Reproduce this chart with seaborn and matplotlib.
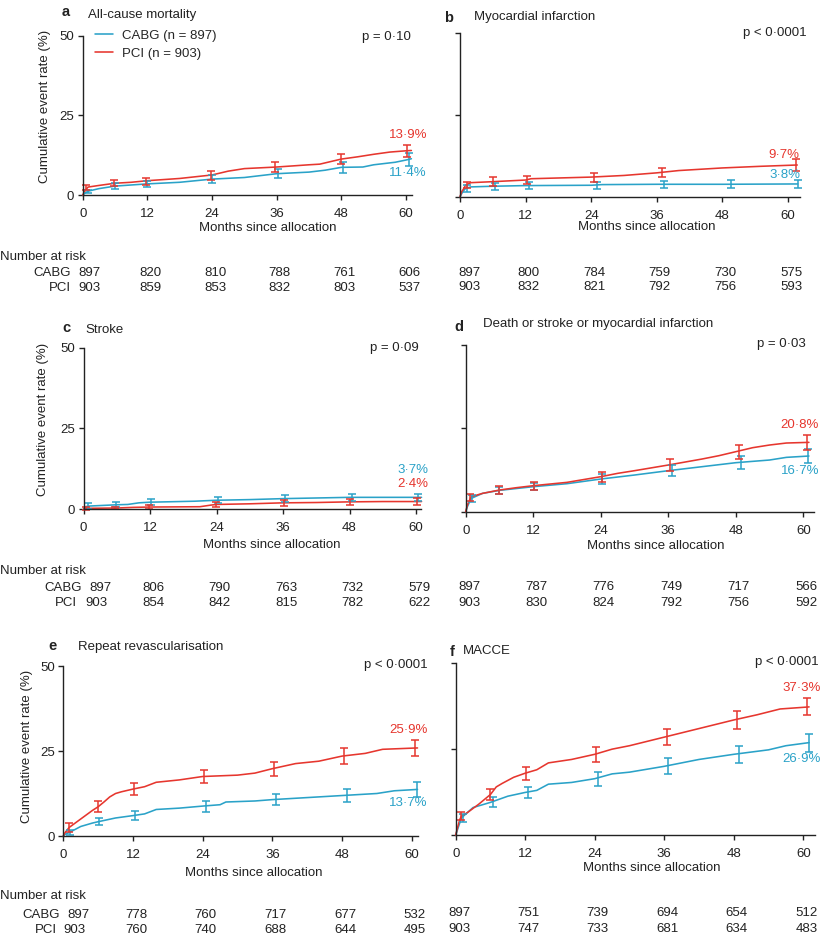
import matplotlib
matplotlib.use("Agg")
import matplotlib.pyplot as plt
import seaborn as sns

sns.set_style("ticks")
plt.rcParams["font.family"] = ["Liberation Sans", "DejaVu Sans"]

RED = "#e6362e"
BLUE = "#2aa2c8"
INK = "#222222"
FS = 9.5

# ---------------- data ----------------
risk_months = [0, 12, 24, 36, 48, 60]

# a  All-cause mortality
a_cabg_t = [0, 0.5, 1, 3, 6, 12, 18, 24, 30, 36, 42, 45, 48, 52, 54, 58, 60, 61]
a_cabg_v = [0, 0.7, 1.2, 2.0, 2.8, 3.5, 4.0, 5.0, 5.5, 6.7, 7.2, 7.8, 8.7, 8.8, 9.5, 10.3, 11.0, 11.4]
a_pci_t = [0, 0.5, 1, 3, 6, 9, 12, 18, 24, 27, 30, 36, 42, 44, 48, 51, 54, 57, 60, 61]
a_pci_v = [0, 1.5, 2.5, 3.0, 3.7, 4.0, 4.5, 5.2, 6.3, 7.5, 8.3, 8.8, 9.5, 9.7, 11.3, 12.0, 12.8, 13.5, 13.9, 14.0]
a_cabg_bar_t = [0.9, 6.0, 11.9, 24.0, 36.2, 48.4, 60.5]
a_cabg_bar_v = [1.1, 2.8, 3.5, 5.0, 6.8, 8.7, 11.2]
a_cabg_bar_e = [0.6, 0.9, 1.0, 1.2, 1.4, 1.7, 2.0]
a_pci_bar_t = [0.7, 5.9, 11.8, 23.8, 35.7, 47.9, 60.1]
a_pci_bar_v = [2.4, 3.7, 4.4, 6.2, 8.8, 11.3, 13.9]
a_pci_bar_e = [0.8, 1.0, 1.1, 1.4, 1.6, 1.7, 1.9]
a_risk_cabg = [897, 820, 810, 788, 761, 606]
a_risk_pci = [903, 859, 853, 832, 803, 537]

# b  Myocardial infarction
b_cabg_t = [0, 0.5, 1, 2, 6, 12, 24, 26, 36, 48, 61.8]
b_cabg_v = [0, 1.5, 2.5, 3.0, 3.2, 3.4, 3.5, 3.7, 3.8, 3.8, 3.9]
b_pci_t = [0, 0.3, 0.7, 1, 2, 6, 12, 13, 24, 30, 36, 40, 48, 55, 61.7]
b_pci_v = [0, 1.5, 2.5, 3.5, 4.3, 4.6, 5.1, 5.5, 6.0, 6.5, 7.3, 8.0, 8.8, 9.3, 9.7]
b_cabg_bar_t = [1.2, 6.4, 12.7, 25.1, 37.4, 49.6, 61.8]
b_cabg_bar_v = [2.5, 3.2, 3.4, 3.5, 3.8, 3.8, 3.9]
b_cabg_bar_e = [1.2, 1.1, 1.0, 1.1, 1.1, 1.2, 1.3]
b_pci_bar_t = [1.2, 6.1, 12.2, 24.6, 36.9, 61.4]
b_pci_bar_v = [3.6, 4.6, 5.1, 6.0, 7.4, 9.7]
b_pci_bar_e = [0.9, 1.3, 1.3, 1.4, 1.5, 1.7]
b_risk_cabg = [897, 800, 784, 759, 730, 575]
b_risk_pci = [903, 832, 821, 792, 756, 593]

# c  Stroke
c_cabg_t = [0, 0.3, 1, 6, 8, 10, 12, 20, 24, 30, 36, 42, 48, 61]
c_cabg_v = [0, 0.8, 1.0, 1.4, 1.5, 2.0, 2.2, 2.5, 2.8, 3.0, 3.3, 3.5, 3.7, 3.7]
c_pci_t = [0, 0.5, 6, 9, 12, 21, 23, 24, 30, 36, 42, 48, 54, 61]
c_pci_v = [0, 0.3, 0.4, 0.6, 0.7, 0.8, 1.3, 1.5, 1.7, 2.0, 2.1, 2.3, 2.4, 2.4]
c_cabg_bar_t = [0.9, 5.9, 12.2, 24.2, 36.3, 48.5, 60.3]
c_cabg_bar_v = [1.0, 1.4, 2.2, 2.8, 3.3, 3.7, 3.7]
c_cabg_bar_e = [0.8, 0.8, 0.9, 1.0, 1.1, 1.1, 1.1]
c_pci_bar_t = [0.5, 5.7, 11.9, 23.9, 36.1, 48.1, 60.1]
c_pci_bar_v = [0.3, 0.4, 0.7, 1.5, 2.0, 2.3, 2.4]
c_pci_bar_e = [0.4, 0.4, 0.6, 0.9, 1.0, 1.0, 1.0]
c_risk_cabg = [897, 806, 790, 763, 732, 579]
c_risk_pci = [903, 854, 842, 815, 782, 622]

# d  Death or stroke or myocardial infarction
d_cabg_t = [0, 0.3, 0.7, 1, 3, 6, 12, 18, 24, 30, 36, 42, 48, 54, 57, 61]
d_cabg_v = [0, 1.5, 3.0, 4.0, 5.5, 6.4, 7.5, 8.4, 9.8, 11.0, 12.3, 13.5, 14.7, 15.5, 16.3, 16.7]
d_pci_t = [0, 0.3, 0.7, 1, 2, 3, 6, 9, 12, 18, 24, 27, 30, 36, 42, 45, 48, 51, 54, 57, 61]
d_pci_v = [0, 2.0, 3.5, 4.5, 5.0, 5.5, 6.5, 7.2, 7.8, 8.8, 10.5, 11.5, 12.3, 14.0, 15.8, 16.8, 18.0, 19.2, 20.0, 20.6, 20.8]
d_cabg_bar_t = [1.2, 6.0, 12.2, 24.3, 36.6, 48.9, 60.9]
d_cabg_bar_v = [4.0, 6.4, 7.5, 9.8, 12.3, 14.7, 16.7]
d_cabg_bar_e = [1.0, 1.0, 1.1, 1.4, 1.6, 1.9, 2.1]
d_pci_bar_t = [0.8, 6.0, 12.2, 24.2, 36.3, 48.6, 60.6]
d_pci_bar_v = [4.3, 6.5, 7.8, 10.5, 14.0, 18.0, 20.8]
d_pci_bar_e = [1.0, 1.1, 1.2, 1.5, 1.8, 2.1, 2.3]
d_risk_cabg = [897, 787, 776, 749, 717, 566]
d_risk_pci = [903, 830, 824, 792, 756, 592]

# e  Repeat revascularisation
e_cabg_t = [0, 0.3, 1, 3, 5, 6, 9, 12, 14, 16, 20, 24, 27, 28, 33, 36, 42, 48, 54, 57, 61]
e_cabg_v = [0, 0.5, 1.0, 2.8, 3.8, 4.2, 5.3, 6.0, 6.5, 7.8, 8.2, 8.8, 9.2, 10.0, 10.3, 10.7, 11.3, 11.9, 12.5, 13.3, 13.7]
e_pci_t = [0, 0.3, 1, 3, 5, 6, 7, 8, 9, 10, 12, 14, 16, 20, 24, 30, 33, 36, 40, 44, 48, 52, 55, 61]
e_pci_v = [0, 1.0, 2.5, 5.0, 7.5, 8.6, 10.0, 11.5, 12.5, 13.0, 13.8, 14.5, 15.8, 16.5, 17.5, 17.9, 18.5, 19.8, 21.3, 22.0, 23.5, 24.3, 25.5, 25.9]
e_cabg_bar_t = [1.1, 6.2, 12.4, 24.5, 36.6, 48.9, 60.9]
e_cabg_bar_v = [1.0, 4.2, 6.0, 8.8, 10.7, 11.9, 13.7]
e_cabg_bar_e = [0.7, 1.1, 1.3, 1.6, 1.7, 1.9, 2.1]
e_pci_bar_t = [1.0, 5.9, 12.1, 24.3, 36.3, 48.4, 60.5]
e_pci_bar_v = [2.5, 8.6, 13.8, 17.5, 19.8, 23.5, 25.9]
e_pci_bar_e = [1.2, 1.6, 1.8, 2.0, 2.1, 2.3, 2.4]
e_risk_cabg = [897, 778, 760, 717, 677, 532]
e_risk_pci = [903, 760, 740, 688, 644, 495]

# f  MACCE
f_cabg_t = [0, 0.3, 0.7, 1, 3, 6, 9, 12, 14, 16, 20, 24, 27, 30, 36, 42, 48, 54, 57, 61]
f_cabg_v = [0, 1.5, 3.5, 5.0, 8.0, 9.5, 11.3, 12.4, 13.0, 14.8, 15.3, 16.4, 17.8, 18.3, 20.0, 22.0, 23.5, 24.8, 26.0, 26.9]
f_pci_t = [0, 0.3, 0.7, 1, 2, 4, 6, 7, 8, 10, 12, 14, 16, 20, 24, 27, 30, 36, 42, 48, 52, 56, 61]
f_pci_v = [0, 2.0, 4.5, 5.5, 6.5, 9.0, 11.8, 14.0, 15.0, 16.8, 18.0, 19.0, 21.0, 22.0, 23.5, 25.0, 26.0, 28.5, 31.0, 33.5, 35.0, 36.7, 37.3]
f_cabg_bar_t = [1.2, 6.4, 12.4, 24.6, 36.7, 48.9, 60.9]
f_cabg_bar_v = [5.0, 9.6, 12.4, 16.4, 20.0, 23.5, 26.9]
f_cabg_bar_e = [1.2, 1.4, 1.7, 2.0, 2.3, 2.4, 2.6]
f_pci_bar_t = [0.9, 6.0, 12.1, 24.3, 36.4, 48.6, 60.6]
f_pci_bar_v = [5.5, 11.8, 18.0, 23.5, 28.5, 33.5, 37.3]
f_pci_bar_e = [1.2, 1.6, 1.9, 2.2, 2.4, 2.5, 2.5]
f_risk_cabg = [897, 751, 739, 694, 654, 512]
f_risk_pci = [903, 747, 733, 681, 634, 483]

# ---------------- layout (pixels) ----------------
W, H = 823, 938
fig = plt.figure(figsize=(W / 100, H / 100), dpi=100)


def fx(x):
    return x / W


def fy(y):
    return 1 - y / H


panels = [
    dict(letter="a", title="All-cause mortality", p="p = 0·10",
         cabg=(a_cabg_t, a_cabg_v, a_cabg_bar_t, a_cabg_bar_v, a_cabg_bar_e),
         pci=(a_pci_t, a_pci_v, a_pci_bar_t, a_pci_bar_v, a_pci_bar_e),
         risk=(a_risk_cabg, a_risk_pci), pct=("13·9%", "11·4%"),
         box=(82.7, 406, 195, 36, 412), left=True,
         letter_xy=(66, 12), title_xy=(88, 14.7), p_xy=(410.7, 36.7),
         red_xy=(427, 135), blue_xy=(427, 173), xl=(268, 228), yl=(45, 106),
         head_y=256.7, rows_y=(273.3, 288.3), first_x=(89.5, 89.5), lab_x=(71, 71)),
    dict(letter="b", title="Myocardial infarction", p="p < 0·0001",
         cabg=(b_cabg_t, b_cabg_v, b_cabg_bar_t, b_cabg_bar_v, b_cabg_bar_e),
         pci=(b_pci_t, b_pci_v, b_pci_bar_t, b_pci_bar_v, b_pci_bar_e),
         risk=(b_risk_cabg, b_risk_pci), pct=("9·7%", "3·8%"),
         box=(460, 788, 196.7, 33.3, 800), left=False,
         letter_xy=(449, 18.3), title_xy=(474, 17), p_xy=(806.7, 33.3),
         red_xy=(799, 155), blue_xy=(800, 175), xl=(647, 227), yl=None,
         head_y=None, rows_y=(273.3, 287.3), first_x=(469, 469), lab_x=None),
    dict(letter="c", title="Stroke", p="p = 0·09",
         cabg=(c_cabg_t, c_cabg_v, c_cabg_bar_t, c_cabg_bar_v, c_cabg_bar_e),
         pci=(c_pci_t, c_pci_v, c_pci_bar_t, c_pci_bar_v, c_pci_bar_e),
         risk=(c_risk_cabg, c_risk_pci), pct=("2·4%", "3·7%"),
         box=(83.5, 416, 509.3, 347.7, 420.7), left=True,
         letter_xy=(66, 327.7), title_xy=(85, 330), p_xy=(419, 347.7),
         red_xy=(428, 484), blue_xy=(428, 470), xl=(272, 545), yl=(42.7, 419),
         head_y=571, rows_y=(588.3, 603.3), first_x=(100.8, 96.2), lab_x=(81.7, 77.3)),
    dict(letter="d", title="Death or stroke or myocardial infarction", p="p = 0·03",
         cabg=(d_cabg_t, d_cabg_v, d_cabg_bar_t, d_cabg_bar_v, d_cabg_bar_e),
         pci=(d_pci_t, d_pci_v, d_pci_bar_t, d_pci_bar_v, d_pci_bar_e),
         risk=(d_risk_cabg, d_risk_pci), pct=("20·8%", "16·7%"),
         box=(465.7, 803.3, 511.7, 345, 814.3), left=False,
         letter_xy=(459, 326.7), title_xy=(483.3, 324), p_xy=(806, 344.3),
         red_xy=(819, 425), blue_xy=(819, 470.7), xl=(655.5, 545.7), yl=None,
         head_y=None, rows_y=(587.3, 602.7), first_x=(469, 469), lab_x=None),
    dict(letter="e", title="Repeat revascularisation", p="p < 0·0001",
         cabg=(e_cabg_t, e_cabg_v, e_cabg_bar_t, e_cabg_bar_v, e_cabg_bar_e),
         pci=(e_pci_t, e_pci_v, e_pci_bar_t, e_pci_bar_v, e_pci_bar_e),
         risk=(e_risk_cabg, e_risk_pci), pct=("25·9%", "13·7%"),
         box=(63.3, 411.7, 836, 666, 418), left=True,
         letter_xy=(52.5, 646), title_xy=(78.3, 646.7), p_xy=(428, 665),
         red_xy=(427.6, 730), blue_xy=(427.6, 803), xl=(254, 872.7), yl=(26.7, 746),
         head_y=896, rows_y=(915, 930), first_x=(78.5, 74.3), lab_x=(60, 56.7)),
    dict(letter="f", title="MACCE", p="p < 0·0001",
         cabg=(f_cabg_t, f_cabg_v, f_cabg_bar_t, f_cabg_bar_v, f_cabg_bar_e),
         pci=(f_pci_t, f_pci_v, f_pci_bar_t, f_pci_bar_v, f_pci_bar_e),
         risk=(f_risk_cabg, f_risk_pci), pct=("37·3%", "26·9%"),
         box=(455.7, 803.3, 835, 663.3, 815), left=False,
         letter_xy=(452.5, 651.7), title_xy=(463.3, 650.7), p_xy=(818.3, 661.7),
         red_xy=(821, 687.7), blue_xy=(821, 759.3), xl=(652, 868), yl=None,
         head_y=None, rows_y=(913.3, 929.3), first_x=(459, 459), lab_x=None),
]

for P in panels:
    x0, x60, y0, y50, xend = P["box"]
    scale = (x60 - x0) / 60
    ax = fig.add_axes([fx(x0), fy(y0), (xend - x0) / W, (y0 - y50) / H])
    ax.set_xlim(0, (xend - x0) / scale)
    ax.set_ylim(0, 50)

    for key, col, name in (("cabg", BLUE, "CABG (n = 897)"), ("pci", RED, "PCI (n = 903)")):
        t, v, bt, bv, be = P[key]
        sns.lineplot(x=t, y=v, ax=ax, color=col, lw=1.15, estimator=None,
                     sort=False, label=name, legend=False)
    handles = ax.get_lines()[:2]
    for key, col in (("cabg", BLUE), ("pci", RED)):
        t, v, bt, bv, be = P[key]
        ax.errorbar(bt, bv, yerr=be, fmt="none", ecolor=col, elinewidth=1.1,
                    capsize=3.2, capthick=1.1, clip_on=False)
    for ln in ax.get_lines():
        ln.set_clip_on(False)

    sns.despine(ax=ax)
    for s in ("left", "bottom"):
        ax.spines[s].set_color(INK)
        ax.spines[s].set_linewidth(1.0)
    ax.set_xticks([0, 12, 24, 36, 48, 60])
    ax.set_yticks([0, 25, 50])
    ax.tick_params(length=3.5, width=1.0, color=INK, labelsize=FS,
                   labelcolor=INK, pad=2.5)
    ax.tick_params(axis="x", pad=6.0)
    if not P["left"]:
        ax.set_yticklabels([])
    ax.set_xlabel("")
    ax.set_ylabel("")

    if P["letter"] == "a":
        ax.legend(handles, ["CABG (n = 897)", "PCI (n = 903)"], loc="upper left",
                  bbox_to_anchor=(fx(95), fy(29.5)), bbox_transform=fig.transFigure,
                  frameon=False, fontsize=FS, borderpad=0, borderaxespad=0,
                  handlelength=1.4, handletextpad=0.65, labelspacing=0.45)

    # texts
    fig.text(fx(P["letter_xy"][0]), fy(P["letter_xy"][1]), P["letter"],
             fontsize=10.5, fontweight="bold", ha="center", va="center", color=INK)
    fig.text(fx(P["title_xy"][0]), fy(P["title_xy"][1]), P["title"],
             fontsize=FS, ha="left", va="center", color=INK)
    fig.text(fx(P["p_xy"][0]), fy(P["p_xy"][1]), P["p"],
             fontsize=FS, ha="right", va="center", color=INK)
    fig.text(fx(P["red_xy"][0]), fy(P["red_xy"][1]), P["pct"][0],
             fontsize=FS, ha="right", va="center", color=RED)
    fig.text(fx(P["blue_xy"][0]), fy(P["blue_xy"][1]), P["pct"][1],
             fontsize=FS, ha="right", va="center", color=BLUE)
    fig.text(fx(P["xl"][0]), fy(P["xl"][1]), "Months since allocation",
             fontsize=FS, ha="center", va="center", color=INK)
    if P["yl"] is not None:
        fig.text(fx(P["yl"][0]), fy(P["yl"][1]), "Cumulative event rate (%)",
                 fontsize=FS, ha="center", va="center", rotation=90, color=INK)

    # number at risk
    if P["head_y"] is not None:
        fig.text(0, fy(P["head_y"]), "Number at risk", fontsize=FS,
                 ha="left", va="center", color=INK)
    for r, (vals, ypx) in enumerate(zip(P["risk"], P["rows_y"])):
        if P["lab_x"] is not None:
            fig.text(fx(P["lab_x"][r]), fy(ypx), ["CABG", "PCI"][r], fontsize=FS,
                     ha="right", va="center", color=INK)
        for m, n in zip(risk_months, vals):
            xp = P["first_x"][r] if m == 0 else x0 + m * scale + 3
            fig.text(fx(xp), fy(ypx), str(n), fontsize=FS,
                     ha="center", va="center", color=INK)

fig.savefig("out.png", dpi=100)
